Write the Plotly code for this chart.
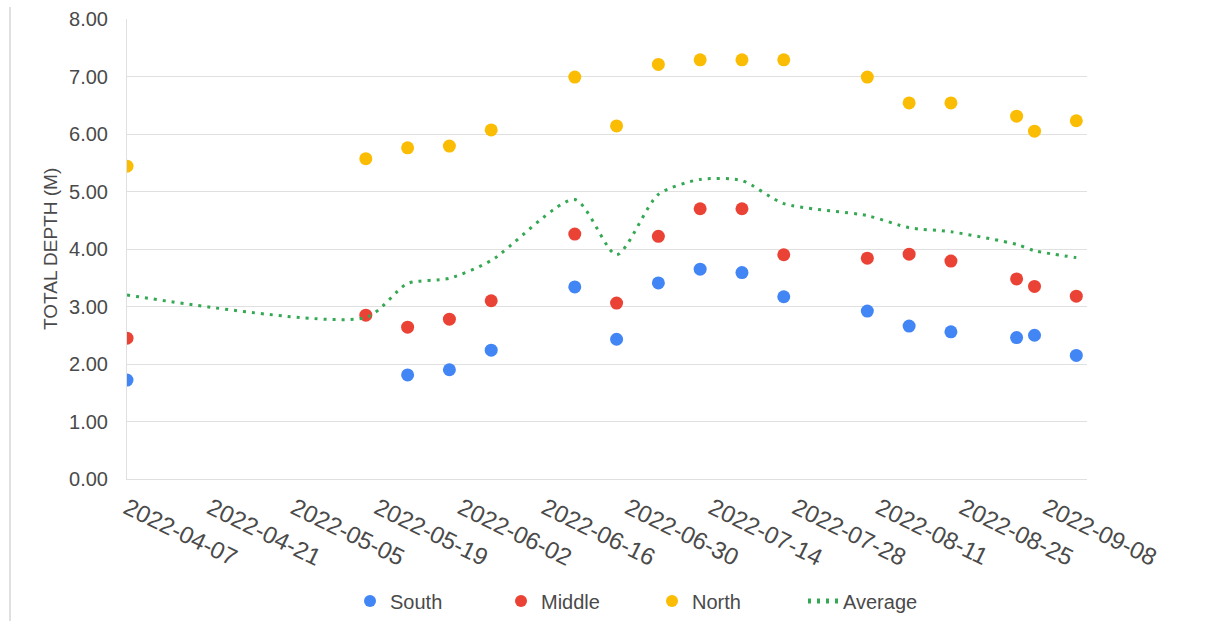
import plotly.graph_objects as go

# Sampling dates and total depth readings (m) per station
dates = ['2022-04-07', '2022-05-17', '2022-05-24', '2022-05-31', '2022-06-07',
         '2022-06-21', '2022-06-28', '2022-07-05', '2022-07-12', '2022-07-19',
         '2022-07-26', '2022-08-09', '2022-08-16', '2022-08-23', '2022-09-03',
         '2022-09-06', '2022-09-13']

south = [1.72, None, 1.81, 1.90, 2.24, 3.34, 2.43, 3.41, 3.65, 3.59,
         3.17, 2.92, 2.66, 2.56, 2.46, 2.50, 2.15]
middle = [2.45, 2.85, 2.64, 2.78, 3.10, 4.26, 3.06, 4.22, 4.70, 4.70,
          3.90, 3.84, 3.91, 3.79, 3.48, 3.35, 3.18]
north = [5.44, 5.57, 5.76, 5.79, 6.07, 6.99, 6.14, 7.21, 7.29, 7.29,
         7.29, 6.99, 6.54, 6.54, 6.31, 6.05, 6.23]
average = [3.20, 2.81, 3.40, 3.49, 3.80, 4.86, 3.90, 4.95, 5.21, 5.19,
           4.79, 4.58, 4.37, 4.30, 4.08, 3.97, 3.85]

FONT = "Liberation Sans, Arial, sans-serif"
TEXT = "#4a4a4a"
GRID = "#e0e0e0"

fig = go.Figure()
for name, vals, color in [("South", south, "#4285F4"),
                          ("Middle", middle, "#EA4335"),
                          ("North", north, "#FBBC04")]:
    fig.add_trace(go.Scatter(x=dates, y=vals, name=name, mode="markers",
                             marker=dict(size=13, color=color)))

fig.add_trace(go.Scatter(x=dates, y=average, name="Average", mode="lines",
                         line=dict(color="#34A853", width=3, dash="3px,6px",
                                   shape="spline", smoothing=0.7)))

W, H = 1218, 621
L, R, T, B = 127, 131, 19, 142
pw, ph = W - L - R, H - T - B

fig.update_layout(
    width=W, height=H,
    margin=dict(l=L, r=R, t=T, b=B, autoexpand=False),
    paper_bgcolor="white", plot_bgcolor="white",
    font=dict(family=FONT, color=TEXT),
    showlegend=True,
    legend=dict(orientation="h", xanchor="center", yanchor="middle",
                x=(652 - L) / pw, y=(T + ph - 601) / ph,
                font=dict(size=20, color=TEXT), entrywidth=106,
                itemsizing="constant"),
    xaxis=dict(type="date", range=["2022-04-07", "2022-09-14 19:00"],
               tick0="2022-04-07", dtick=14 * 86400000, tickformat="%Y-%m-%d",
               tickangle=26, tickfont=dict(size=24, color=TEXT),
               showgrid=False, showline=True, linecolor=GRID, linewidth=1,
               ticks="", ticklabelstandoff=5, zeroline=False,
               automargin=False),
    yaxis=dict(range=[0, 8], dtick=1, tickformat=".2f",
               tickfont=dict(size=20, color=TEXT),
               showgrid=True, gridcolor=GRID, gridwidth=1,
               showline=True, linecolor=GRID, linewidth=1,
               zeroline=False, ticks="", ticklabelstandoff=14,
               automargin=False),
    annotations=[dict(text="TOTAL DEPTH (M)", textangle=-90, showarrow=False,
                      xref="paper", yref="paper", x=(50 - L) / pw, y=0.5,
                      xanchor="center", yanchor="middle",
                      font=dict(size=19, color=TEXT))],
    shapes=[dict(type="line", xref="paper", yref="paper",
                 x0=(10 - L) / pw, x1=(10 - L) / pw,
                 y0=(T + ph - H) / ph, y1=(T + ph - 7) / ph,
                 line=dict(color="#d6d6d6", width=1.5))],
)

fig.write_html("out.html")
